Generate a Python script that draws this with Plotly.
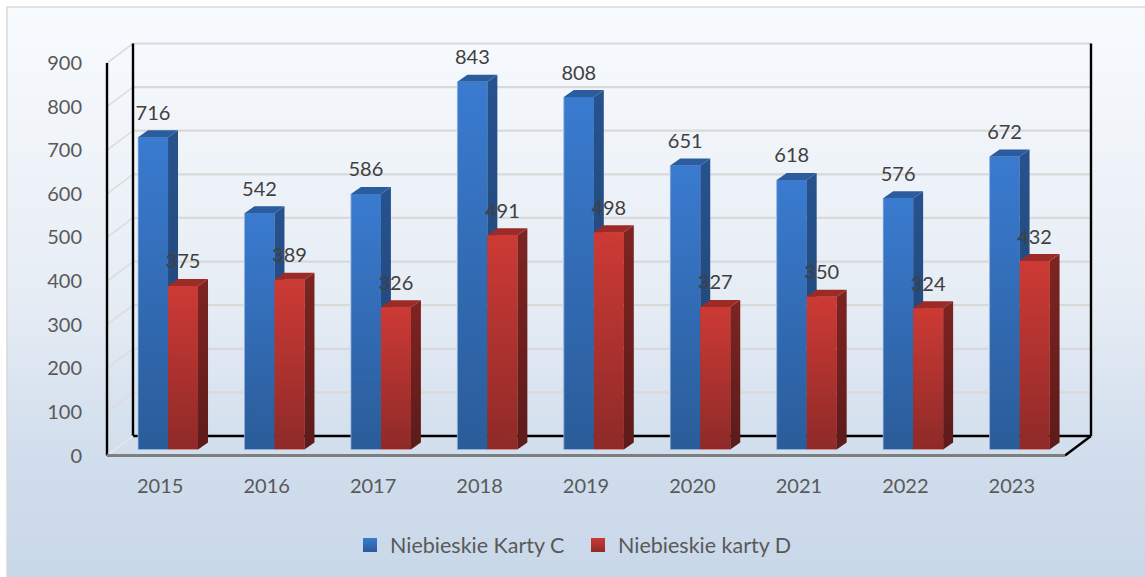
import plotly.graph_objects as go

years = ["2015", "2016", "2017", "2018", "2019", "2020", "2021", "2022", "2023"]
karty_c = [716, 542, 586, 843, 808, 651, 618, 576, 672]
karty_d = [375, 389, 326, 491, 498, 327, 350, 324, 432]
y_ticks = [0, 100, 200, 300, 400, 500, 600, 700, 800, 900]

W, H = 1145, 577
LEFT, RIGHT, BOTTOM, TOP = 107, 1065, 455.5, 63
PLOT_LEFT, PLOT_RIGHT, PLOT_BOTTOM, PLOT_TOP = 100, 1110, 462.5, 25  # the axes run on past the front plane so the wall fits
UX = (RIGHT - LEFT) / len(years)   # px per category
UY = (BOTTOM - TOP) / 900          # px per unit

def dx(px): return px / UX
def dy(px): return px / UY

WALL_X, WALL_Y = dx(26), dy(19.5)
BAR_W = dx(30)
FRONT_X, FRONT_Y = dx(7.8), dy(6)
SIDE_X, SIDE_Y = dx(10), dy(7)

FONT = "Lato, Carlito, Calibri, sans-serif"
fig = go.Figure()

# chart-area background
fig.add_trace(go.Scatter(
    x=[7 / W, 1, 1, 7 / W, 7 / W], y=[0, 0, 1 - 7 / H, 1 - 7 / H, 0],
    mode="lines", fill="toself", line=dict(color="rgba(0,0,0,0)", width=0),
    fillgradient=dict(type="vertical", colorscale=[
        [0, "#c9d8e9"], [0.2, "#d0ddec"], [0.5, "#e7edf5"], [1, "#f8fbfe"]]),
    xaxis="x", yaxis="y", hoverinfo="skip", showlegend=False))
fig.add_trace(go.Scatter(
    x=[7 / W, 7 / W, 1], y=[0, 1 - 7 / H, 1 - 7 / H],
    mode="lines", line=dict(color="#d9d9d9", width=1.5),
    xaxis="x", yaxis="y", hoverinfo="skip", showlegend=False))

# wall and floor
x0, x1 = -0.5, len(years) - 0.5
gx, gy, sx, sy = [], [], [], []
for t in y_ticks[1:]:
    gx += [x0 + WALL_X, x1 + WALL_X, None]
    gy += [t + WALL_Y, t + WALL_Y, None]
    sx += [x0, x0 + WALL_X, None]
    sy += [t, t + WALL_Y, None]
def line(x, y, color, width):
    fig.add_trace(go.Scatter(x=x, y=y, mode="lines", line=dict(color=color, width=width),
                             xaxis="x2", yaxis="y2", cliponaxis=False, hoverinfo="skip", showlegend=False))
line(gx, gy, "#d9d9d9", 2.2)
line(sx, sy, "#dcdcdc", 1.6)
line([x0 + WALL_X, x0 + WALL_X], [WALL_Y, 900 + WALL_Y], "#000000", 2.4)
line([x1 + WALL_X, x1 + WALL_X], [WALL_Y, 900 + WALL_Y], "#000000", 2.4)
line([x0, x0], [0, 900], "#000000", 2.4)
line([x0 + WALL_X, x1 + WALL_X], [WALL_Y, WALL_Y], "#000000", 2.4)
line([x1, x1 + WALL_X], [0, WALL_Y], "#000000", 2.4)
line([x0, x0 + WALL_X], [0, WALL_Y], "#e6e6e6", 1.6)
line([x0, x1], [0, 0], "#7f7f7f", 3)

def face(x, y, c_top, c_bottom):
    fig.add_trace(go.Scatter(
        x=x, y=y, mode="lines", fill="toself", line=dict(color="rgba(0,0,0,0)", width=0),
        fillgradient=dict(type="vertical", colorscale=[[0, c_bottom], [1, c_top]]),
        xaxis="x2", yaxis="y2", cliponaxis=False, hoverinfo="skip", showlegend=False))

series = [
    ("Niebieskie Karty C", karty_c, 0, "#3a7bd0", "#2a5c99", "#27528e", "#1f426f", "#2a5c9e", "#2f66ab",
     "rgba(170,195,235,0.7)"),
    ("Niebieskie karty D", karty_d, 1, "#cd3a35", "#8e2a28", "#7e2421", "#5c1b1a", "#9c2a27", "#a82e2a",
     "rgba(225,185,185,0.6)"),
]

# solid bars (the gradient faces are laid on them)
for name, vals, k, top, bot, stop, sbot, ctop, mid, outline in series:
    fig.add_trace(go.Bar(
        x=[i + FRONT_X + (k - 0.5) * BAR_W for i in range(len(years))],
        y=vals, base=[FRONT_Y] * len(vals), width=BAR_W, marker=dict(color=mid, line=dict(width=0)),
        xaxis="x2", yaxis="y2", cliponaxis=False, hoverinfo="skip", showlegend=False))

for i in range(len(years)):
    for name, vals, k, top, bot, stop, sbot, ctop, mid, outline in series:
        l = i + FRONT_X + (k - 1) * BAR_W
        r = l + BAR_W
        b = FRONT_Y
        t = FRONT_Y + vals[i]
        face([r, r + SIDE_X, r + SIDE_X, r, r], [b, b + SIDE_Y, t + SIDE_Y, t, b], stop, sbot)
        face([l, r, r + SIDE_X, l + SIDE_X, l], [t, t, t + SIDE_Y, t + SIDE_Y, t], ctop, ctop)
        face([l, r, r, l, l], [b, b, t, t, b], top, bot)
        if k == 0:
            line([l, l, r], [t, b, b], outline, 1)
        else:
            line([l, r], [b, b], outline, 1)

# data labels
LABEL_UP = dy(22.5)
for name, vals, k, *_ in series:
    fig.add_trace(go.Scatter(
        x=[i + FRONT_X + (k - 0.5) * BAR_W for i in range(len(years))],
        y=[v + FRONT_Y + LABEL_UP for v in vals],
        text=[str(v) for v in vals], mode="text", textposition="middle center",
        textfont=dict(family=FONT, size=20, color="#404040"),
        xaxis="x2", yaxis="y2", cliponaxis=False, hoverinfo="skip", showlegend=False))

# legend entries
for name, c_top, c_bot in [("Niebieskie Karty C", "#3a7bd0", "#2a5c99"), ("Niebieskie karty D", "#cd3a35", "#8e2a28")]:
    fig.add_trace(go.Scatter(
        x=[None], y=[None], name=name, mode="markers",
        marker=dict(symbol="square", size=14, color=c_top, line=dict(width=0),
                    gradient=dict(type="vertical", color=c_bot)),
        xaxis="x2", yaxis="y2", hoverinfo="skip"))

fig.update_layout(
    width=W, height=H, autosize=False,
    margin=dict(l=0, r=0, t=0, b=0, pad=0, autoexpand=False),
    paper_bgcolor="#ffffff", plot_bgcolor="rgba(0,0,0,0)",
    barmode="overlay", showlegend=True,
    font=dict(family=FONT, size=20, color="#595959"),
    legend=dict(orientation="h", x=350 / W, y=1 - 545 / H, xanchor="left", yanchor="middle",
                bgcolor="rgba(0,0,0,0)", font=dict(family=FONT, size=21.5, color="#595959"),
                traceorder="normal", entrywidth=183, entrywidthmode="pixels"),
    xaxis=dict(domain=[0, 1], range=[0, 1], visible=False, fixedrange=True),
    yaxis=dict(domain=[0, 1], range=[0, 1], visible=False, fixedrange=True),
    xaxis2=dict(domain=[PLOT_LEFT / W, PLOT_RIGHT / W],
                range=[x0 - (LEFT - PLOT_LEFT) / UX, x0 + (PLOT_RIGHT - LEFT) / UX], anchor="y2",
                tickmode="array", tickvals=list(range(len(years))), ticktext=years,
                ticks="outside", ticklen=5, tickcolor="rgba(0,0,0,0)", showgrid=False, zeroline=False,
                showline=False, fixedrange=True, tickfont=dict(family=FONT, size=20, color="#595959")),
    yaxis2=dict(domain=[1 - PLOT_BOTTOM / H, 1 - PLOT_TOP / H],
                range=[-(PLOT_BOTTOM - BOTTOM) / UY, (BOTTOM - PLOT_TOP) / UY], anchor="x2",
                tickmode="array", tickvals=y_ticks, ticktext=[str(v) for v in y_ticks],
                ticks="outside", ticklen=13, tickcolor="rgba(0,0,0,0)", showgrid=False, zeroline=False,
                showline=False, fixedrange=True, tickfont=dict(family=FONT, size=20, color="#595959")),
)

fig.write_html("out.html", post_script="document.body.style.margin='0';document.body.style.overflow='hidden';",
               config={"displayModeBar": False})
